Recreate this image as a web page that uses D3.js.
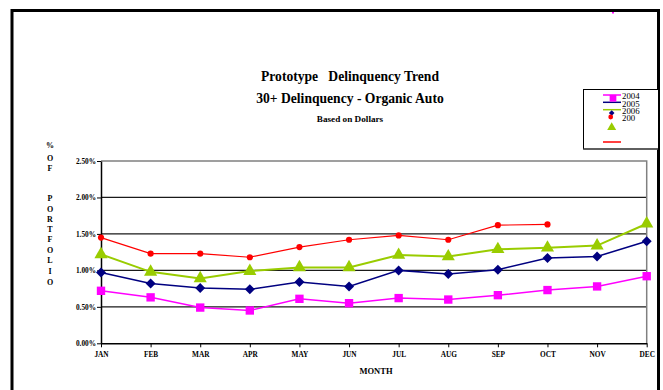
<!DOCTYPE html>
<html>
<head>
<meta charset="utf-8">
<script src="https://cdn.jsdelivr.net/npm/d3@7"></script>
<style>
  html, body { margin: 0; padding: 0; background: #fff; }
  svg { display: block; }
  text { font-family: "Liberation Serif", "Times New Roman", serif; }
</style>
</head>
<body>
<svg id="chart" width="663" height="390"></svg>
<script>
// Monthly 30+ delinquency rates (fraction of portfolio dollars)
const months = ["JAN","FEB","MAR","APR","MAY","JUN","JUL","AUG","SEP","OCT","NOV","DEC"];
const yTicks = [0, 0.005, 0.010, 0.015, 0.020, 0.025];
const v2004 = [0.0072, 0.0063, 0.0049, 0.0045, 0.0061, 0.0055, 0.0062, 0.0060, 0.0066, 0.0073, 0.0078, 0.0092];
const v2005 = [0.0097, 0.0082, 0.0076, 0.0074, 0.0084, 0.0078, 0.0100, 0.0095, 0.0101, 0.0117, 0.0119, 0.0140];
const v2006 = [0.0122, 0.0098, 0.0089, 0.0099, 0.0104, 0.0104, 0.0121, 0.0119, 0.0129, 0.0131, 0.0134, 0.0164];
const v2007 = [0.0145, 0.0123, 0.0123, 0.0118, 0.0132, 0.0142, 0.0148, 0.0142, 0.0162, 0.0163, null, null];
const legendLabels = ["2004", "2005", "2006", "200"];

const svg = d3.select("#chart");

// outer frame (open at the bottom)
svg.append("path")
  .attr("d", "M12,390 L12,10.5 L658.5,10.5 L658.5,390")
  .attr("fill", "none").attr("stroke", "#000").attr("stroke-width", 3);
svg.append("rect").attr("x", 612).attr("y", 12).attr("width", 2).attr("height", 1.5).attr("fill", "#ff00ff");

// titles
const titles = [
  {t: "Prototype\u00a0\u00a0 Delinquency Trend", y: 81, s: 13.6},
  {t: "30+ Delinquency - Organic Auto", y: 103, s: 13.6},
  {t: "Based on Dollars", y: 122, s: 9.2}
];
svg.selectAll("text.title").data(titles).enter().append("text")
  .attr("class", "title")
  .attr("x", 350).attr("y", d => d.y)
  .attr("text-anchor", "middle").attr("font-weight", "bold")
  .attr("font-size", d => d.s + "px")
  .text(d => d.t);

// scales
const x = d3.scalePoint().domain(months).range([101, 646.7]);
const y = d3.scaleLinear().domain([0, 0.025]).range([343.3, 161]);

// gridlines
svg.append("g").selectAll("line").data(yTicks.filter(t => t > 0 && t < 0.025)).enter()
  .append("line")
  .attr("x1", x.range()[0]).attr("x2", x.range()[1])
  .attr("y1", d => y(d)).attr("y2", d => y(d))
  .attr("stroke", "#1a1a1a").attr("stroke-width", 1.3);

// plot frame: top and right in gray
svg.append("path")
  .attr("d", `M${x.range()[0]},${y(0.025)} L${x.range()[1]},${y(0.025)} L${x.range()[1]},${y(0)}`)
  .attr("fill", "none").attr("stroke", "#808080").attr("stroke-width", 1.5);

// axes
const yAxis = svg.append("g")
  .attr("transform", `translate(${x.range()[0]},0)`)
  .call(d3.axisLeft(y).tickValues(yTicks).tickFormat(d3.format(".2%")).tickSize(4).tickSizeOuter(0).tickPadding(1));
yAxis.select(".domain").attr("stroke", "#000").attr("stroke-width", 1.5);
yAxis.selectAll(".tick line").attr("stroke", "#000").attr("stroke-width", 1);
yAxis.selectAll("text").attr("font-size", "7.3px").attr("font-weight", "bold")
  .attr("font-family", "'Liberation Serif', serif").attr("fill", "#000");

const xAxis = svg.append("g")
  .attr("transform", `translate(0,${y(0)})`)
  .call(d3.axisBottom(x).tickSize(4).tickSizeOuter(0).tickPadding(5));
xAxis.select(".domain").attr("stroke", "#000").attr("stroke-width", 1.5);
xAxis.selectAll(".tick line").attr("stroke", "#000").attr("stroke-width", 1);
xAxis.selectAll("text").attr("font-size", "7.3px").attr("font-weight", "bold")
  .attr("font-family", "'Liberation Serif', serif").attr("fill", "#000");

// axis titles
svg.append("text").attr("x", 376).attr("y", 374).attr("text-anchor", "middle")
  .attr("font-size", "8.5px").attr("font-weight", "bold").text("MONTH");

const yLabelChars = [
  {c: "%", y: 148}, {c: "O", y: 161}, {c: "F", y: 171},
  {c: "P", y: 201}, {c: "O", y: 212}, {c: "R", y: 222}, {c: "T", y: 232},
  {c: "F", y: 242}, {c: "O", y: 253}, {c: "L", y: 263}, {c: "I", y: 274}, {c: "O", y: 285}
];
svg.selectAll("text.ylab").data(yLabelChars).enter().append("text")
  .attr("class", "ylab").attr("x", 50).attr("y", d => d.y)
  .attr("text-anchor", "middle").attr("font-size", "8px").attr("font-weight", "bold")
  .text(d => d.c);

// series
const series = [
  {name: "2004", values: v2004, color: "#ff00ff", width: 1.5, marker: "square", size: 70},
  {name: "2005", values: v2005, color: "#000080", width: 1.5, marker: "diamond", size: 50},
  {name: "2006", values: v2006, color: "#99cc00", width: 2, marker: "triangle", size: 75},
  {name: "2007", values: v2007, color: "#ff0000", width: 1.2, marker: "circle", size: 30}
];
// diamonds are squares turned 45 degrees
const symbolType = {square: d3.symbolSquare, diamond: d3.symbolSquare, triangle: d3.symbolTriangle, circle: d3.symbolCircle};
const symbolRotate = {square: 0, diamond: 45, triangle: 0, circle: 0};

const line = d3.line()
  .defined(d => d.v != null)
  .x(d => x(d.m)).y(d => y(d.v));

series.forEach(s => {
  const pts = months.map((m, i) => ({m, v: s.values[i]}));
  svg.append("path").datum(pts)
    .attr("fill", "none").attr("stroke", s.color).attr("stroke-width", s.width)
    .attr("d", line);
  svg.append("g").selectAll("path").data(pts.filter(d => d.v != null)).enter()
    .append("path")
    .attr("transform", d => `translate(${x(d.m)},${y(d.v)}) rotate(${symbolRotate[s.marker]})`)
    .attr("d", d3.symbol().type(symbolType[s.marker]).size(s.size))
    .attr("fill", s.color);
});

// legend
const lg = svg.append("g");
lg.append("rect").attr("x", 583.5).attr("y", 89.5).attr("width", 75).attr("height", 59.5)
  .attr("fill", "#fff").attr("stroke", "#000").attr("stroke-width", 1);
lg.append("line").attr("x1", 583.5).attr("x2", 658).attr("y1", 149).attr("y2", 149)
  .attr("stroke", "#555").attr("stroke-width", 1.5);

const legendLineY = [95, 102.3, 109.7, 142];
series.forEach((s, i) => {
  lg.append("line").attr("x1", 603).attr("x2", 621)
    .attr("y1", legendLineY[i]).attr("y2", legendLineY[i])
    .attr("stroke", s.color).attr("stroke-width", 1.5);
});
const legendMarkers = [
  {s: series[0], x: 613, y: 98.3, size: 45},
  {s: series[1], x: 611.7, y: 113, size: 16},
  {s: series[3], x: 610.7, y: 117, size: 18},
  {s: series[2], x: 611.7, y: 127.5, size: 35}
];
legendMarkers.forEach(d => {
  lg.append("path")
    .attr("transform", `translate(${d.x},${d.y}) rotate(${symbolRotate[d.s.marker]})`)
    .attr("d", d3.symbol().type(symbolType[d.s.marker]).size(d.size))
    .attr("fill", d.s.color);
});
const legendTextY = [99, 106.5, 114, 121];
legendLabels.forEach((t, i) => {
  lg.append("text").attr("x", 622).attr("y", legendTextY[i])
    .attr("font-size", "8.8px").attr("fill", "#000").text(t);
});
</script>
</body>
</html>
